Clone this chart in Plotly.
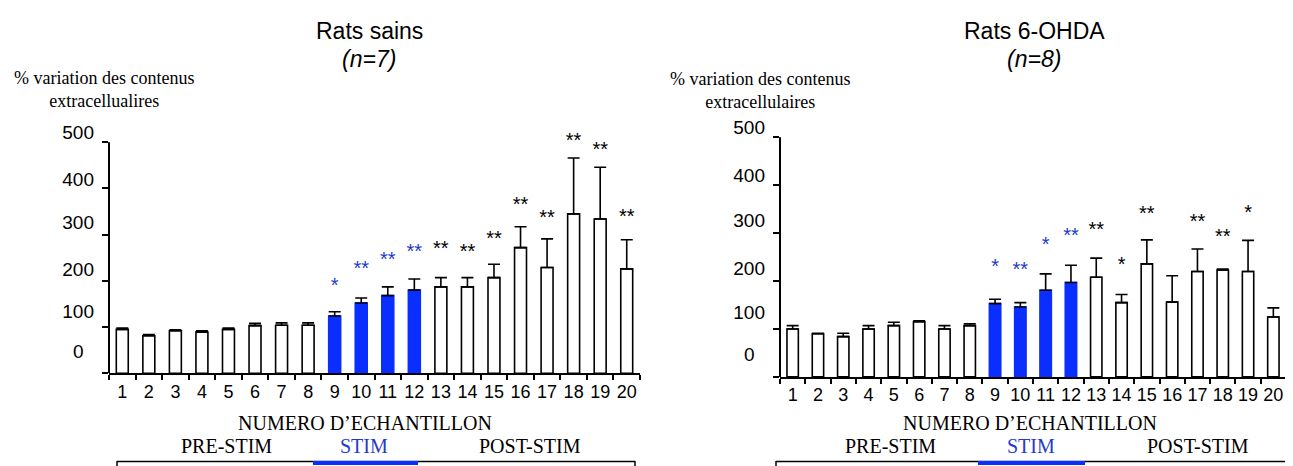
import plotly.graph_objects as go

# page body has an 8px margin: figure is placed at (8, 8) in the window
OFF = 8
W, H = 1293 - OFF, 466 - OFF

samples = [str(i) for i in range(1, 21)]
stim_samples = ["9", "10", "11", "12"]

# Rats sains (n=7)
sains_mean = [95, 81, 92, 89, 95, 103, 104, 104, 124, 152, 168, 180, 187, 187, 207, 272, 229, 345, 334, 226]
sains_err = [3, 3, 2, 3, 3, 5, 5, 5, 9, 11, 19, 24, 20, 20, 29, 45, 62, 121, 112, 63]
sains_stars = ["", "", "", "", "", "", "", "", "*", "**", "**", "**", "**", "**", "**", "**", "**", "**", "**", "**"]
sains_star_y = [0, 0, 0, 0, 0, 0, 0, 0, 187, 224, 243, 261, 267, 261, 288, 363, 334, 500, 481, 335]

# Rats 6-OHDA (n=8)
ohda_mean = [100, 90, 84, 100, 107, 115, 100, 107, 153, 146, 181, 197, 208, 155, 236, 156, 220, 223, 220, 125]
ohda_err = [7, 1, 7, 7, 7, 2, 7, 4, 9, 9, 34, 36, 40, 17, 50, 55, 47, 2, 65, 19]
ohda_stars = ["", "", "", "", "", "", "", "", "*", "**", "*", "**", "**", "*", "**", "", "**", "**", "*", ""]
ohda_star_y = [0, 0, 0, 0, 0, 0, 0, 0, 227, 220, 274, 292, 304, 232, 338, 0, 322, 290, 340, 0]

y_ticks = [0, 100, 200, 300, 400, 500]
y_tick_text = ["0\u00a0\u00a0", "100", "200", "300", "400", "500"]
y_label_pos = [47, 134, 226, 326, 420, 521]

BLUE_BAR = "#0A2EFF"
BLUE_TXT = "#1F3BC8"
SANS = "Liberation Sans, Arial, sans-serif"
SERIF = "Liberation Serif, Times New Roman, serif"


def px(x):
    return (x - OFF) / W


def py(y):
    return 1 - (y - OFF) / H


fig = go.Figure()


def add_panel(mean, err, stars, star_y, xa, ya):
    fills = [BLUE_BAR if s in stim_samples else "white" for s in samples]
    lines = [BLUE_BAR if s in stim_samples else "black" for s in samples]
    fig.add_trace(go.Bar(
        x=samples, y=mean, xaxis=xa, yaxis=ya,
        marker=dict(color=fills, line=dict(color=lines, width=1.6)),
        error_y=dict(type="data", array=err, arrayminus=[0] * len(err), symmetric=False,
                     color="black", thickness=1.6, width=6),
        hoverinfo="skip",
    ))
    sx = [s for s, t in zip(samples, stars) if t]
    sy = [v for v, t in zip(star_y, stars) if t]
    st = [t for t in stars if t]
    sc = [BLUE_TXT if s in stim_samples else "black" for s in sx]
    fig.add_trace(go.Scatter(
        x=sx, y=sy, text=st, mode="text", xaxis=xa, yaxis=ya,
        textposition="middle center", cliponaxis=False,
        textfont=dict(family=SANS, size=20, color=sc),
        hoverinfo="skip",
    ))


add_panel(sains_mean, sains_err, sains_stars, sains_star_y, "x", "y")
add_panel(ohda_mean, ohda_err, ohda_stars, ohda_star_y, "x2", "y2")

# panel geometry (window pixels)
L = dict(x0=109, x1=640, y0=372, y500=138)
R = dict(x0=780, x1=1286, y0=375.7, y500=133)
YMAX = 530


def ydomain(g):
    per = (g["y0"] - g["y500"]) / 500.0
    top = g["y0"] - per * YMAX
    return [py(g["y0"]), py(top)]


xaxis_common = dict(
    type="category", tickson="boundaries", ticks="outside", ticklen=5, tickwidth=1.5,
    tickcolor="black", showline=True, linecolor="black", linewidth=2, showgrid=False,
    zeroline=False, tickfont=dict(family=SANS, size=18, color="black"), tickangle=0,
    ticklabelstandoff=1, range=[-0.5, 19.5], fixedrange=True,
)
yaxis_common = dict(
    range=[0, YMAX], tickvals=y_ticks, showticklabels=False, ticks="outside", ticklen=6,
    tickwidth=1.5, tickcolor="black", showline=False, showgrid=False, zeroline=False,
)
ylab_common = dict(
    range=[0, YMAX], tickvals=y_label_pos, ticktext=y_tick_text, ticks="", showline=False,
    showgrid=False, zeroline=False, tickfont=dict(family=SANS, size=19, color="black"),
    ticklabelstandoff=14,
)

fig.update_layout(
    width=W, height=H, margin=dict(l=0, r=0, t=0, b=0),
    paper_bgcolor="white", plot_bgcolor="white", showlegend=False, bargap=0.55,
    xaxis=dict(domain=[px(L["x0"]), px(L["x1"])], anchor="y", **xaxis_common),
    xaxis2=dict(domain=[px(R["x0"]), px(R["x1"])], anchor="y2", **xaxis_common),
    yaxis=dict(domain=ydomain(L), anchor="x", **yaxis_common),
    yaxis2=dict(domain=ydomain(R), anchor="x2", **yaxis_common),
    yaxis3=dict(overlaying="y", anchor="x", side="left", **ylab_common),
    yaxis4=dict(overlaying="y2", anchor="x2", side="left", **ylab_common),
)

# invisible traces to activate the label axes
fig.add_trace(go.Scatter(x=[samples[0]], y=[0], xaxis="x", yaxis="y3", mode="markers",
                         marker=dict(opacity=0), hoverinfo="skip"))
fig.add_trace(go.Scatter(x=[samples[0]], y=[0], xaxis="x2", yaxis="y4", mode="markers",
                         marker=dict(opacity=0), hoverinfo="skip"))

shapes = []
# y axis lines from 0 to 500
for xr, yr in (("x domain", "y"), ("x2 domain", "y2")):
    shapes.append(dict(type="line", xref=xr, yref=yr, x0=0, x1=0, y0=0, y1=500,
                       line=dict(color="black", width=2)))


def hline(x0, x1, y, color, w):
    shapes.append(dict(type="line", xref="paper", yref="paper", x0=px(x0), x1=px(x1),
                       y0=py(y), y1=py(y), line=dict(color=color, width=w)))


def vline(x, y0, y1):
    shapes.append(dict(type="line", xref="paper", yref="paper", x0=px(x), x1=px(x),
                       y0=py(y0), y1=py(y1), line=dict(color="black", width=1.5)))


# bottom phase boxes
hline(117, 635, 461.5, "black", 1.5)
vline(117, 461, 470)
vline(635, 461, 470)
hline(313, 418, 463, BLUE_BAR, 4)
hline(776, 1300, 461.5, "black", 1.5)
vline(776, 461, 470)
hline(978, 1085, 463, BLUE_BAR, 4)

fig.update_layout(shapes=shapes)

annotations = []


def text(x, y, s, size, family, color="black"):
    annotations.append(dict(x=px(x), y=py(y), xref="paper", yref="paper", text=s,
                            showarrow=False, xanchor="center", yanchor="middle",
                            font=dict(family=family, size=size, color=color)))


text(369, 25, "Rats sains", 23, SANS)
text(369, 54, "<i>(n=7)</i>", 23, SANS)
text(104, 84.5, "% variation des contenus<br>extracellualires", 18, SERIF)
text(1034, 25, "Rats 6-OHDA", 23, SANS)
text(1034, 54, "<i>(n=8)</i>", 23, SANS)
text(760, 85.5, "% variation des contenus<br>extracellulaires", 18, SERIF)

text(365, 422, "NUMERO D\u2019ECHANTILLON", 20, SERIF)
text(226, 446, "PRE-STIM", 20, SERIF)
text(364, 446, "STIM", 20, SERIF, BLUE_TXT)
text(530, 446, "POST-STIM", 20, SERIF)
text(1030, 422, "NUMERO D\u2019ECHANTILLON", 20, SERIF)
text(890, 446, "PRE-STIM", 20, SERIF)
text(1031, 446, "STIM", 20, SERIF, BLUE_TXT)
text(1198, 446, "POST-STIM", 20, SERIF)

fig.update_layout(annotations=annotations)

fig.write_html("out.html")
